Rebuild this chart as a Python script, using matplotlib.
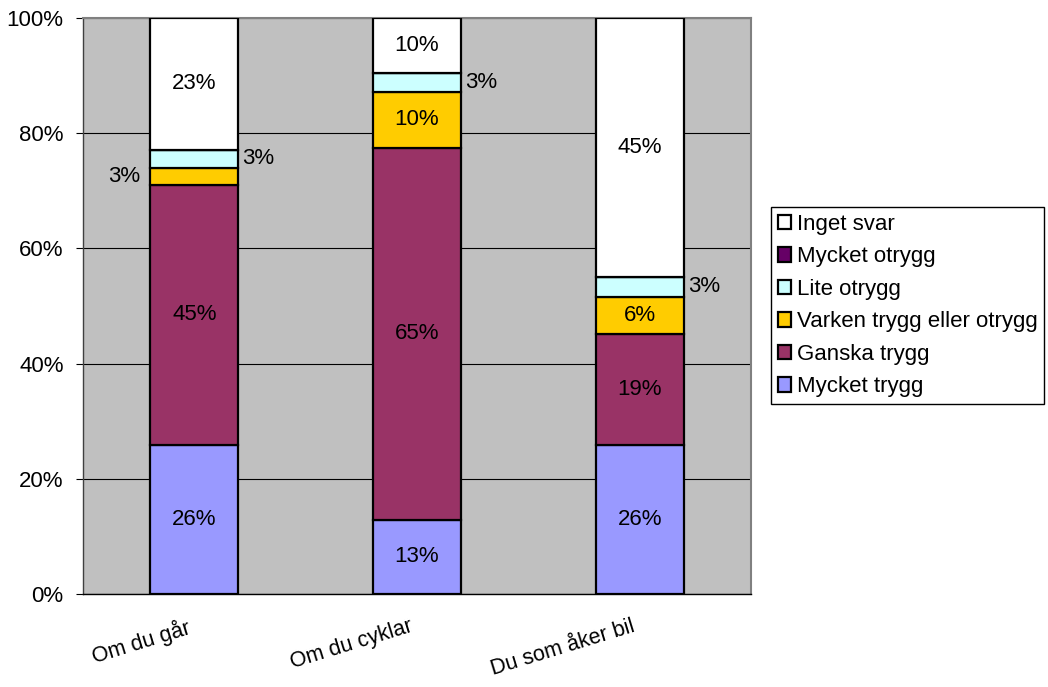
import matplotlib
matplotlib.use("Agg")
import matplotlib.pyplot as plt
from matplotlib.transforms import ScaledTranslation
import numpy as np

plt.rcParams["font.family"] = ["Liberation Sans", "DejaVu Sans"]

# Survey shares (percent) per travel mode
categories = ["Om du går", "Om du cyklar", "Du som åker bil"]
series_names = ["Mycket trygg", "Ganska trygg", "Varken trygg eller otrygg",
                "Lite otrygg", "Mycket otrygg", "Inget svar"]
mycket_trygg = [25.9, 12.9, 25.8]
ganska_trygg = [45.1, 64.6, 19.4]
varken = [3.0, 9.7, 6.4]
lite_otrygg = [3.1, 3.2, 3.4]
mycket_otrygg = [0.0, 0.0, 0.0]
inget_svar = [22.9, 9.6, 45.0]
series_colors = ["#9999FF", "#993366", "#FFCC00", "#CCFFFF", "#660066", "#FFFFFF"]
y_ticks = [0, 20, 40, 60, 80, 100]
y_tick_labels = ["0%", "20%", "40%", "60%", "80%", "100%"]

series = [mycket_trygg, ganska_trygg, varken, lite_otrygg, mycket_otrygg, inget_svar]

FS = 16
fig = plt.figure(figsize=(10.48, 6.87), dpi=100)
ax = fig.add_axes([83 / 1048, 1 - 594 / 687, (751 - 83) / 1048, (594 - 18) / 687])
ax.set_facecolor("#C0C0C0")

x = np.arange(len(categories))
width = 0.395
bottom = np.zeros(len(categories))
handles = []
for name, vals, col in zip(series_names, series, series_colors):
    vals = np.array(vals, dtype=float)
    bars = ax.bar(x, vals, width, bottom=bottom, color=col, edgecolor="black",
                  linewidth=1.6, label=name, zorder=3)
    handles.append(bars)
    for xi, v, b in zip(x, vals, bottom):
        if v <= 0:
            continue
        txt = f"{round(v)}%"
        yc = b + v / 2
        if v < 5:
            if name == "Varken trygg eller otrygg":
                ax.annotate(txt, (xi - width / 2, yc), xytext=(-7, 0),
                            textcoords="offset points", ha="right", va="center",
                            fontsize=FS, zorder=5)
            else:
                ax.annotate(txt, (xi + width / 2, yc), xytext=(3, 0),
                            textcoords="offset points", ha="left", va="center",
                            fontsize=FS, zorder=5)
        else:
            ax.text(xi, yc, txt, ha="center", va="center", fontsize=FS, zorder=5)
    bottom = bottom + vals

ax.set_xlim(-0.5, len(categories) - 0.5)
ax.set_ylim(0, 100)
ax.set_yticks(y_ticks)
ax.set_yticklabels(y_tick_labels, fontsize=FS)
ax.yaxis.grid(True, color="black", linewidth=0.8, zorder=1)
ax.set_axisbelow(True)
ax.tick_params(axis="y", length=5, width=0.8, pad=9, color="black")

ax.set_xticks(x)
ax.set_xticklabels(categories, fontsize=15.5, rotation=17, ha="right", va="top",
                   rotation_mode="anchor")
ax.tick_params(axis="x", length=0, pad=16)
shift = ScaledTranslation(-8 / 100, 0, fig.dpi_scale_trans)
for lbl in ax.get_xticklabels():
    lbl.set_transform(lbl.get_transform() + shift)

for s in ["top", "right", "left"]:
    ax.spines[s].set_color("#808080")
    ax.spines[s].set_linewidth(1.5)
ax.spines["bottom"].set_color("black")
ax.spines["bottom"].set_linewidth(1.0)
ax.spines["left"].set_color("#404040")
ax.spines["left"].set_linewidth(1.0)

leg = ax.legend(handles[::-1], series_names[::-1], loc="upper left",
                bbox_to_anchor=(771 / 1048, 1 - 207 / 687),
                bbox_transform=fig.transFigure, borderaxespad=0,
                fontsize=FS, frameon=True, fancybox=False, framealpha=1,
                edgecolor="black", handlelength=0.62, handleheight=0.62,
                handletextpad=0.25, labelspacing=0.52, borderpad=0.3)
leg.get_frame().set_linewidth(1.0)
for h in leg.legend_handles:
    h.set_linewidth(1.6)
    h.set_edgecolor("black")

fig.savefig("out.png", dpi=100, facecolor="white")
